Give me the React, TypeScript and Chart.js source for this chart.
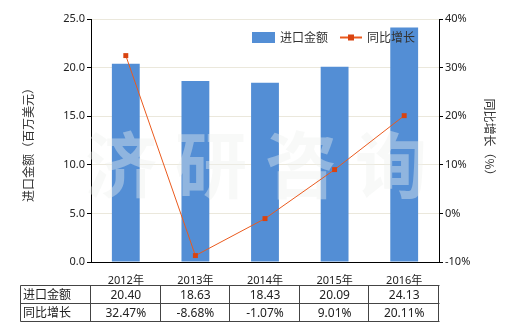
import React, { useEffect, useRef } from "react";
import { Chart, registerables } from "chart.js";

Chart.register(...registerables);

const categories = ["2012年", "2013年", "2014年", "2015年", "2016年"];
const importValues = [20.4, 18.63, 18.43, 20.09, 24.13];
const growthValues = [32.47, -8.68, -1.07, 9.01, 20.11];
const importLabels = ["20.40", "18.63", "18.43", "20.09", "24.13"];
const growthLabels = ["32.47%", "-8.68%", "-1.07%", "9.01%", "20.11%"];
const seriesNames = ["进口金额", "同比增长"];
const leftTitle = "进口金额（百万美元）";
const rightTitle = "同比增长（%）";
const watermark = ["济", "研", "咨", "询"];

const FONT = "'Noto Sans', 'Noto Sans CJK SC', sans-serif";
const BAR = "#538ed5";
const LINE = "#ea5a1e";
const MARK = "#d9430f";

const decor = {
  id: "decor",
  afterDatasetDraw(chart: any, args: any) {
    if (args.meta.type !== "bar") return;
    const ctx = chart.ctx;
    const ca = chart.chartArea;
    const xs = chart.scales.x;
    ctx.save();
    ctx.fillStyle = "rgba(237,240,237,0.4)";
    ctx.font = `bold 72px 'Noto Sans CJK SC', sans-serif`;
    ctx.textAlign = "center";
    ctx.textBaseline = "middle";
    const w = (ca.right - ca.left) / 4;
    watermark.forEach((c, i) => {
      ctx.fillText(c, ca.left + 30 + i * 90, 165);
    });
    ctx.restore();
  },
  afterDraw(chart: any) {
    const ctx = chart.ctx;
    const ca = chart.chartArea;
    const xs = chart.scales.x;
    ctx.save();
    // legend
    ctx.fillStyle = BAR;
    ctx.fillRect(252, 32, 23, 11);
    ctx.font = `12px 'Noto Sans CJK SC', sans-serif`;
    ctx.fillStyle = "#333";
    ctx.textBaseline = "middle";
    ctx.textAlign = "left";
    ctx.fillText(seriesNames[0], 280, 37.5);
    ctx.strokeStyle = LINE;
    ctx.lineWidth = 2;
    ctx.beginPath();
    ctx.moveTo(340, 37.5);
    ctx.lineTo(362, 37.5);
    ctx.stroke();
    ctx.fillStyle = MARK;
    ctx.fillRect(348, 34.5, 6, 6);
    ctx.fillStyle = "#333";
    ctx.fillText(seriesNames[1], 367, 37.5);

    // axis titles
    ctx.save();
    ctx.translate(28, 142);
    ctx.rotate(-Math.PI / 2);
    ctx.textAlign = "center";
    ctx.fillText(leftTitle, 0, 0);
    ctx.restore();
    ctx.save();
    ctx.translate(490, 140);
    ctx.rotate(Math.PI / 2);
    ctx.textAlign = "center";
    ctx.fillText(rightTitle, 0, 0);
    ctx.restore();

    // table
    const n = categories.length;
    const step = (ca.right - ca.left) / n;
    const top = 285.5, mid = 303.5, bot = 321.5, left = 20.5;
    ctx.strokeStyle = "#444";
    ctx.lineWidth = 1;
    ctx.beginPath();
    [top, mid, bot].forEach((y) => {
      ctx.moveTo(left, y);
      ctx.lineTo(Math.round(ca.right) + 0.5, y);
    });
    ctx.moveTo(left, top);
    ctx.lineTo(left, bot);
    for (let i = 0; i <= n; i++) {
      const x = Math.round(ca.left + i * step) - 0.5;
      ctx.moveTo(x, top);
      ctx.lineTo(x, bot);
    }
    ctx.stroke();
    ctx.fillStyle = "#222";
    ctx.textAlign = "left";
    ctx.font = `12px 'Noto Sans CJK SC', sans-serif`;
    ctx.fillText(seriesNames[0], 23, (top + mid) / 2);
    ctx.fillText(seriesNames[1], 23, (mid + bot) / 2);
    ctx.textAlign = "center";
    ctx.font = `12px ${FONT}`;
    for (let i = 0; i < n; i++) {
      const cx = xs.getPixelForValue(i);
      ctx.fillText(importLabels[i], cx, (top + mid) / 2 + 1);
      ctx.fillText(growthLabels[i], cx, (mid + bot) / 2 + 1);
    }
    ctx.restore();
  },
};

export default function App() {
  const ref = useRef<HTMLCanvasElement>(null);
  useEffect(() => {
    if (!ref.current) return;
    const chart = new Chart(ref.current, {
      type: "bar",
      data: {
        labels: categories,
        datasets: [
          {
            type: "line",
            label: seriesNames[1],
            data: growthValues,
            yAxisID: "y1",
            borderColor: LINE,
            borderWidth: 1,
            backgroundColor: MARK,
            pointStyle: "rect",
            pointRadius: 3.5,
            pointBorderWidth: 0,
            pointBackgroundColor: MARK,
            order: 0,
          } as any,
          {
            type: "bar",
            label: seriesNames[0],
            data: importValues,
            yAxisID: "y",
            backgroundColor: BAR,
            categoryPercentage: 0.8,
            barPercentage: 0.5,
            order: 1,
          },
        ],
      },
      plugins: [decor],
      options: {
        responsive: false,
        animation: false,
        layout: { padding: { top: 19, left: 0, right: 0, bottom: 0 } },
        plugins: { legend: { display: false }, tooltip: { enabled: false } },
        scales: {
          x: {
            offset: true,
            grid: { display: false },
            border: { color: "#000", width: 1 },
            ticks: { color: "#222", font: { family: FONT, size: 11 }, padding: 4 },
            afterFit(s: any) {
              s.height = 68;
            },
          },
          y: {
            position: "left",
            min: 0,
            max: 25,
            grid: { color: "#ebe8dc", tickColor: "#000", tickLength: 4 },
            border: { color: "#000", width: 1 },
            ticks: {
              stepSize: 5,
              color: "#222",
              padding: 2,
              font: { family: FONT, size: 11 },
              callback: (v: any) => Number(v).toFixed(1),
            },
            afterFit(s: any) {
              s.width = 91;
            },
          },
          y1: {
            position: "right",
            min: -10,
            max: 40,
            grid: { drawOnChartArea: false, tickColor: "#000", tickLength: 4 },
            border: { color: "#000", width: 1 },
            ticks: {
              stepSize: 10,
              color: "#222",
              padding: 2,
              font: { family: FONT, size: 11 },
              callback: (v: any) => `${v}%`,
            },
            afterFit(s: any) {
              s.width = 81;
            },
          },
        },
      },
    });
    return () => chart.destroy();
  }, []);
  return (
    <div style={{ position: "fixed", left: 0, top: 0, width: 520, height: 330, background: "#fff" }}>
      <canvas ref={ref} width={520} height={330} />
    </div>
  );
}
